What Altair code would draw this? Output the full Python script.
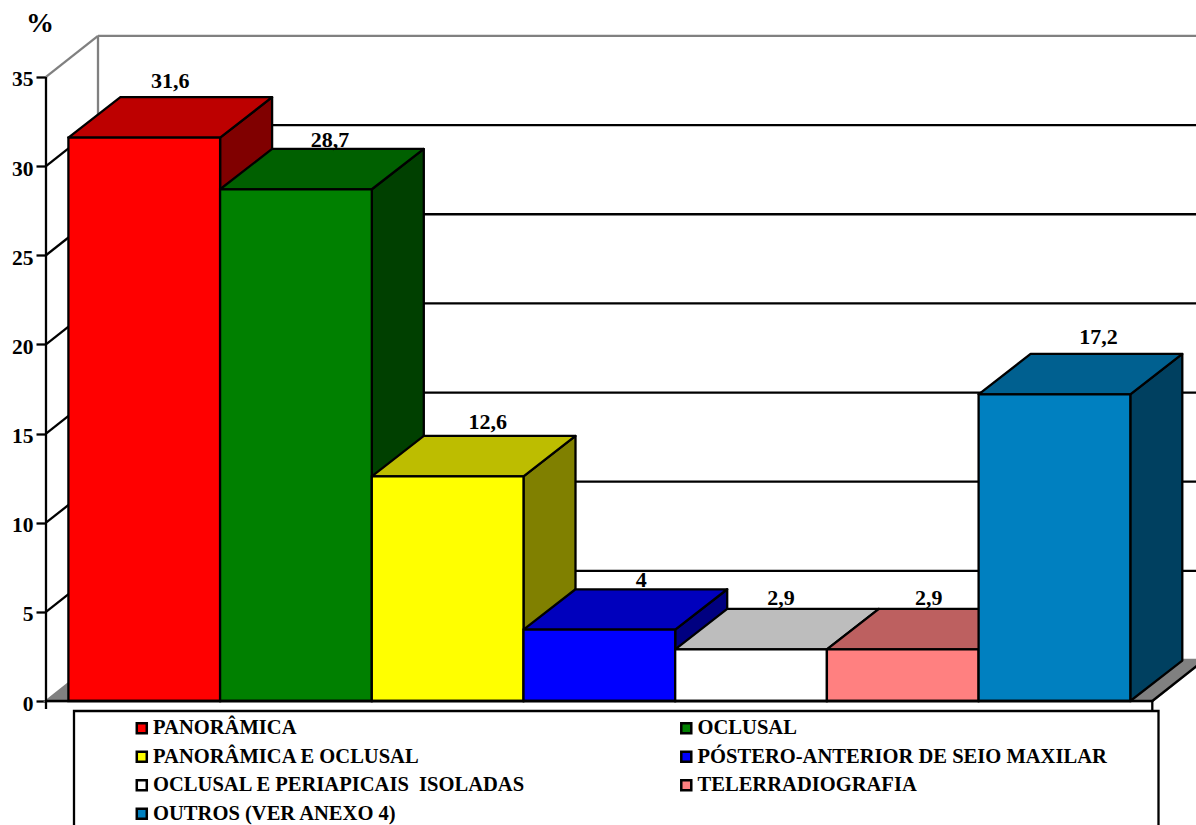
import altair as alt
import pandas as pd

# Survey results
names = ["PANORÂMICA", "OCLUSAL", "PANORÂMICA E OCLUSAL",
         "PÓSTERO-ANTERIOR DE SEIO MAXILAR",
         "OCLUSAL E PERIAPICAIS\u00a0 ISOLADAS", "TELERRADIOGRAFIA",
         "OUTROS (VER ANEXO 4)"]
values = [31.6, 28.7, 12.6, 4, 2.9, 2.9, 17.2]
labels = ["31,6", "28,7", "12,6", "4", "2,9", "2,9", "17,2"]
ticks = [0, 5, 10, 15, 20, 25, 30, 35]

# Face colours of each box
front = ["#FF0000", "#008000", "#FFFF00", "#0000FF", "#FFFFFF", "#FF8080", "#0080C0"]
top = ["#BD0000", "#006000", "#BDBD00", "#0000BD", "#BDBDBD", "#BD6060", "#006090"]
side = ["#800000", "#004000", "#808000", "#000080", "#808080", "#804040", "#004060"]

# Nudges of the value labels away from the box centre, in pixels
label_right = [0, 8, 14, 16, 4, 0, 18]
label_lift = [9, 2, 7, 2, 4, 4, 10]

# Canvas and oblique projection, in pixels
W, H = 1196, 825
BAR_W = 151.7
X_ORIGIN = 68.4
Y_ZERO = 701
UNIT = 17.83
DEPTH_X = 52 / BAR_W
DEPTH_Y = 40.4 / UNIT
WALL_DEPTH_Y = 41 / UNIT
FONT = "Liberation Serif"
LINE = 2.3
AXIS_X = -22.4 / BAR_W
FLOOR_END = len(values) + 22 / BAR_W

x_scale = alt.Scale(domain=[-X_ORIGIN / BAR_W, (W - X_ORIGIN) / BAR_W], nice=False, zero=False)
y_scale = alt.Scale(domain=[-(H - Y_ZERO) / UNIT, Y_ZERO / UNIT], nice=False, zero=False)
y_axis = alt.Axis(offset=-46, values=ticks, domain=False, grid=False, title=None,
                  tickColor="black", tickWidth=LINE, tickSize=10, labelFont=FONT,
                  labelFontWeight="bold", labelFontSize=21.5, labelColor="black",
                  labelPadding=3, labelOffset=3, labelFlush=False, labelOverlap=False)
X = alt.X("x:Q", scale=x_scale, axis=None, stack=False)
Y = alt.Y("y:Q", scale=y_scale, axis=y_axis, stack=False)

bars = pd.DataFrame({"i": range(len(values)), "name": names, "value": values, "label": labels,
                     "front": front})
bars["x"] = bars["i"]
bars["x2"] = bars["i"] + 1
bars["y"] = bars["value"]
bars["y2"] = 0.0
bars["lx"] = bars["i"] + 0.5 + DEPTH_X / 2 + pd.Series(label_right) / BAR_W
bars["ly"] = bars["value"] + DEPTH_Y + pd.Series(label_lift) / UNIT

side_rows, top_rows = [], []
for i, v in enumerate(values):
    for d in (0, 1):
        side_rows.append({"x": i + 1 + d * DEPTH_X, "y": v + d * DEPTH_Y,
                          "y2": d * DEPTH_Y, "shade": side[i]})
        top_rows.append({"x": i + d * DEPTH_X, "x2": i + 1 + d * DEPTH_X,
                         "y": v + d * DEPTH_Y, "shade": top[i]})
side_df = pd.DataFrame(side_rows)
top_df = pd.DataFrame(top_rows)

# Back wall and side wall lines, one per tick
grid_df = pd.DataFrame({"tick": ticks[1:]})
grid_df["y"] = grid_df["tick"] + WALL_DEPTH_Y
grid_df["x"] = AXIS_X + DEPTH_X
grid_df["x2"] = FLOOR_END + DEPTH_X
inner = grid_df[grid_df["tick"] < 35]
outer = grid_df[grid_df["tick"] == 35]

wall_df = pd.DataFrame({"tick": ticks[1:]})
wall_df["x"] = AXIS_X
wall_df["x2"] = AXIS_X + DEPTH_X
wall_df["y"] = wall_df["tick"]
wall_df["y2"] = wall_df["tick"] + WALL_DEPTH_Y
wall_in = wall_df[wall_df["tick"] < 35]
wall_out = wall_df[wall_df["tick"] == 35]

corner_df = pd.DataFrame({"x": [AXIS_X + DEPTH_X], "y": [WALL_DEPTH_Y], "y2": [35 + WALL_DEPTH_Y]})
floor_df = pd.DataFrame({"x": [AXIS_X, AXIS_X + DEPTH_X], "x2": [FLOOR_END, FLOOR_END + DEPTH_X],
                         "y": [0.0, WALL_DEPTH_Y]})
floor_edge_df = pd.DataFrame({"x": [FLOOR_END], "x2": [FLOOR_END + DEPTH_X], "y": [0.0], "y2": [WALL_DEPTH_Y]})
base_df = pd.DataFrame({"x": [AXIS_X], "x2": [FLOOR_END], "y": [0.0]})
axis_line_df = pd.DataFrame({"x": [AXIS_X], "y": [-8 / UNIT], "y2": [35.0]})
end_tick_df = pd.DataFrame({"x": [FLOOR_END], "y": [-9 / UNIT], "y2": [0.0]})

axis_layer = alt.Chart(axis_line_df).mark_rule(color="black", strokeWidth=LINE).encode(x=X, y=Y, y2="y2:Q")
end_tick = alt.Chart(end_tick_df).mark_rule(color="black", strokeWidth=LINE).encode(x=X, y=Y, y2="y2:Q")

floor = alt.Chart(floor_df).mark_area(orient="horizontal", color="#808080", stroke="#808080",
                                      strokeWidth=LINE, clip=True).encode(x=X, x2="x2:Q", y=Y)
floor_edge = alt.Chart(floor_edge_df).mark_rule(color="black", strokeWidth=LINE, clip=True).encode(
    x=X, x2="x2:Q", y=Y, y2="y2:Q")

grid = alt.Chart(inner).mark_rule(color="black", strokeWidth=LINE, clip=True).encode(x=X, x2="x2:Q", y=Y)
grid_top = alt.Chart(outer).mark_rule(color="#808080", strokeWidth=LINE, clip=True).encode(x=X, x2="x2:Q", y=Y)
wall = alt.Chart(wall_in).mark_rule(color="black", strokeWidth=LINE).encode(x=X, x2="x2:Q", y=Y, y2="y2:Q")
wall_top = alt.Chart(wall_out).mark_rule(color="#808080", strokeWidth=LINE).encode(x=X, x2="x2:Q", y=Y, y2="y2:Q")
corner = alt.Chart(corner_df).mark_rule(color="#808080", strokeWidth=LINE).encode(x=X, y=Y, y2="y2:Q")
base = alt.Chart(base_df).mark_rule(color="black", strokeWidth=LINE).encode(x=X, x2="x2:Q", y=Y)

sides = alt.Chart(side_df).mark_area(stroke="black", strokeWidth=LINE, strokeJoin="round").encode(
    x=X, y=Y, y2="y2:Q", color=alt.Color("shade:N", scale=None))
tops = alt.Chart(top_df).mark_area(orient="horizontal", stroke="black", strokeWidth=LINE,
                                   strokeJoin="round").encode(
    x=X, x2="x2:Q", y=Y, color=alt.Color("shade:N", scale=None))

legend = alt.Legend(title=None, orient="none", legendX=131.5, legendY=718, direction="horizontal",
                    columns=2, columnPadding=150.5, rowPadding=7.5, padding=0,
                    symbolType="square", symbolSize=100, symbolStrokeColor="black",
                    symbolStrokeWidth=2.5, labelFont=FONT, labelFontWeight="bold",
                    labelFontSize=20.55, labelColor="black", labelLimit=600, labelOffset=1)
fronts = alt.Chart(bars).mark_rect(stroke="black", strokeWidth=LINE).encode(
    x=X, x2="x2:Q", y=Y, y2="y2:Q",
    fill=alt.Fill("name:N", scale=alt.Scale(domain=names, range=front), legend=legend))

value_labels = alt.Chart(bars).mark_text(font=FONT, fontWeight="bold", fontSize=22, color="black",
                                         baseline="alphabetic", align="center").encode(
    x=alt.X("lx:Q", scale=x_scale, axis=None), y=alt.Y("ly:Q", scale=y_scale, axis=y_axis), text="label:N")

unit_df = pd.DataFrame({"text": ["%"], "x": [(40 - X_ORIGIN) / BAR_W], "y": [(Y_ZERO - 32) / UNIT]})
unit_label = alt.Chart(unit_df).mark_text(font=FONT, fontWeight="bold", fontSize=28, color="black",
                                          baseline="alphabetic", align="center").encode(
    x=X, y=Y, text="text:N")

# The legend frame runs past the lower edge of the canvas
legend_box = alt.Chart(pd.DataFrame({"k": [0]})).mark_rect(
    fill="white", stroke="black", strokeWidth=LINE).encode(
    x=alt.value(74), x2=alt.value(1158.5), y=alt.value(711), y2=alt.value(840))

chart = alt.layer(
    grid_top, corner, wall_top, grid, wall, floor, floor_edge, end_tick, legend_box,
    sides, tops, fronts, base, axis_layer, value_labels, unit_label
).properties(
    width=W, height=H, padding=0, autosize=alt.AutoSizeParams(type="none"), background="white"
).configure_view(stroke=None)

chart.save("out.html", embed_options={"renderer": "svg", "actions": False})
